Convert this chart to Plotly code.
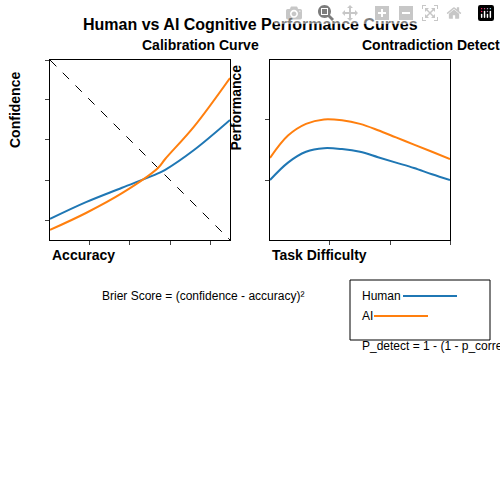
import plotly.graph_objects as go

calib_x = [0.0, 0.2, 0.4, 0.6, 0.64, 0.8, 1.0]
calib_human = [0.117, 0.21, 0.29, 0.37, 0.39, 0.5, 0.667]
calib_ai = [0.056, 0.15, 0.26, 0.40, 0.45, 0.63, 0.9]
diag_x = [0.0, 1.0]
diag_y = [1.0, 0.0]

task_x = [0.0, 0.1, 0.2, 0.3, 0.4, 0.5, 0.6, 0.7, 0.8, 0.9, 1.0]
perf_human = [0.333, 0.43, 0.49, 0.51, 0.505, 0.49, 0.46, 0.43, 0.40, 0.365, 0.333]
perf_ai = [0.456, 0.58, 0.645, 0.67, 0.665, 0.645, 0.61, 0.57, 0.53, 0.49, 0.45]

blue = "#1f77b4"
orange = "#ff7f0e"

fig = go.Figure()
fig.add_trace(go.Scatter(x=diag_x, y=diag_y, mode="lines", line=dict(color="black", dash="dash", width=1), xaxis="x", yaxis="y"))
fig.add_trace(go.Scatter(x=calib_x, y=calib_human, mode="lines", line=dict(color=blue, width=2, shape="spline"), xaxis="x", yaxis="y"))
fig.add_trace(go.Scatter(x=calib_x, y=calib_ai, mode="lines", line=dict(color=orange, width=2, shape="spline"), xaxis="x", yaxis="y"))
fig.add_trace(go.Scatter(x=task_x, y=perf_human, mode="lines", line=dict(color=blue, width=2, shape="spline"), xaxis="x2", yaxis="y2"))
fig.add_trace(go.Scatter(x=task_x, y=perf_ai, mode="lines", line=dict(color=orange, width=2, shape="spline"), xaxis="x2", yaxis="y2"))

ax = dict(showgrid=False, zeroline=False, showline=True, mirror=True, linecolor="black",
          ticks="outside", showticklabels=False, ticklen=4, range=[0, 1])
fig.update_layout(
    width=500, height=500, showlegend=False, plot_bgcolor="white", paper_bgcolor="white",
    margin=dict(l=0, r=0, t=0, b=0),
    font=dict(family="Liberation Sans", color="black"),
    xaxis=dict(ax, domain=[0.1, 0.46], anchor="y", tickvals=[0.222, 0.444, 0.667, 0.889]),
    yaxis=dict(ax, domain=[0.52, 0.88], anchor="x", tickvals=[0.111, 0.333, 0.556, 0.778, 1.0]),
    xaxis2=dict(ax, domain=[0.54, 0.9], anchor="y2", tickvals=[0.333, 0.667, 1.0]),
    yaxis2=dict(ax, domain=[0.52, 0.88], anchor="x2", tickvals=[0.333, 0.667]),
)

def txt(x, y, s, size=12, bold=True, angle=0, anchor="left"):
    fig.add_annotation(x=x, y=y, xref="paper", yref="paper", text=f"<b>{s}</b>" if bold else s,
                       showarrow=False, font=dict(size=size), textangle=angle, xanchor=anchor, yanchor="middle")

txt(0.5, 0.952, "Human vs AI Cognitive Performance Curves", 16, anchor="center")
txt(0.28, 0.91, "Calibration Curve", 14)
txt(0.72, 0.91, "Contradiction Detect", 14)
txt(0.03, 0.78, "Confidence", 14, angle=-90, anchor="center")
txt(0.472, 0.785, "Performance", 14, angle=-90, anchor="center")
txt(0.1, 0.49, "Accuracy", 14)
txt(0.54, 0.49, "Task Difficulty", 14)
txt(0.2, 0.408, "Brier Score = (confidence - accuracy)²", 12, bold=False)
txt(0.72, 0.408, "Human", 12, bold=False)
txt(0.72, 0.368, "AI", 12, bold=False)
txt(0.72, 0.308, "P_detect = 1 - (1 - p_correct)", 12, bold=False)

fig.add_shape(type="rect", xref="paper", yref="paper", x0=0.7, x1=0.98, y0=0.32, y1=0.44, line=dict(color="black", width=1))
fig.add_shape(type="line", xref="paper", yref="paper", x0=0.806, x1=0.914, y0=0.408, y1=0.408, line=dict(color=blue, width=2))
fig.add_shape(type="line", xref="paper", yref="paper", x0=0.748, x1=0.856, y0=0.368, y1=0.368, line=dict(color=orange, width=2))

fig.write_html("out.html", post_script="document.body.style.margin='0';")
